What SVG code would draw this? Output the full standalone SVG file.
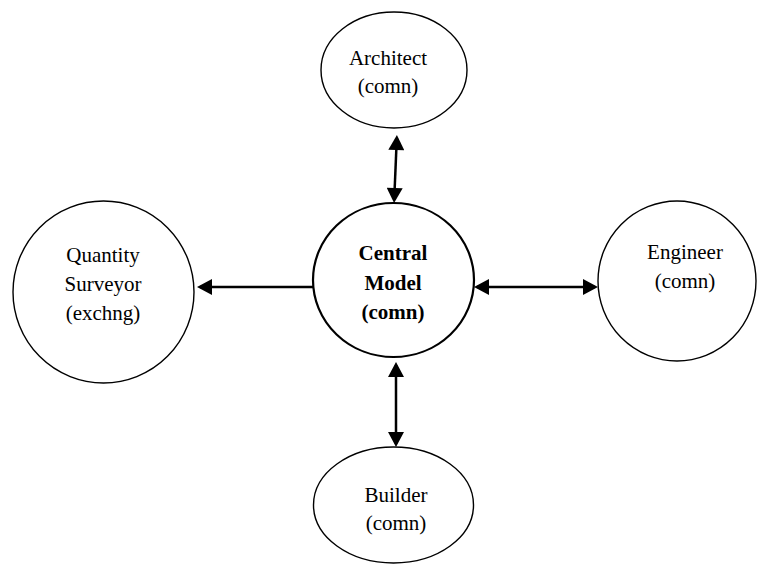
<svg xmlns="http://www.w3.org/2000/svg" width="761" height="567" viewBox="0 0 761 567">
<style>
.node{fill:#fff;stroke:#000;stroke-width:1.4}
.main{fill:#fff;stroke:#000;stroke-width:2.2}
.t{font-family:"Liberation Serif","Times New Roman",serif;font-size:21px;fill:#000;text-anchor:middle}
.b{font-weight:bold}
.c{stroke:#000;stroke-width:2.5;fill:none}
</style>
<defs>
<marker id="ah" markerUnits="userSpaceOnUse" markerWidth="16" markerHeight="16" viewBox="0 0 15 16" refX="12" refY="8" orient="auto-start-reverse">
<path d="M0,0 L15,8 L0,16 z" fill="#000"/>
</marker>
</defs>
<g id="connectors">
<line class="c" x1="396.8" y1="138" x2="394.2" y2="200" marker-start="url(#ah)" marker-end="url(#ah)"/>
<line class="c" x1="313" y1="287" x2="200" y2="287" marker-end="url(#ah)"/>
<line class="c" x1="477" y1="287" x2="595" y2="287" marker-start="url(#ah)" marker-end="url(#ah)"/>
<line class="c" x1="396" y1="365" x2="396" y2="444" marker-start="url(#ah)" marker-end="url(#ah)"/>
</g>
<g id="architect">
<ellipse class="node" cx="394" cy="70" rx="73" ry="58"/>
<text class="t" x="388" y="65">Architect</text>
<text class="t" x="388" y="93">(comn)</text>
</g>
<g id="central">
<ellipse class="main" cx="393.5" cy="280" rx="80.5" ry="77"/>
<text class="t b" x="393" y="260">Central</text>
<text class="t b" x="393" y="290">Model</text>
<text class="t b" x="393" y="319">(comn)</text>
</g>
<g id="quantity-surveyor">
<ellipse class="node" cx="103.5" cy="292" rx="90.5" ry="91"/>
<text class="t" x="103" y="262">Quantity</text>
<text class="t" x="103" y="291">Surveyor</text>
<text class="t" x="103" y="320">(exchng)</text>
</g>
<g id="engineer">
<ellipse class="node" cx="677" cy="281" rx="79" ry="80"/>
<text class="t" x="685" y="259">Engineer</text>
<text class="t" x="685" y="288">(comn)</text>
</g>
<g id="builder">
<ellipse class="node" cx="393.5" cy="505" rx="80" ry="58"/>
<text class="t" x="396" y="502">Builder</text>
<text class="t" x="396" y="530">(comn)</text>
</g>
</svg>
